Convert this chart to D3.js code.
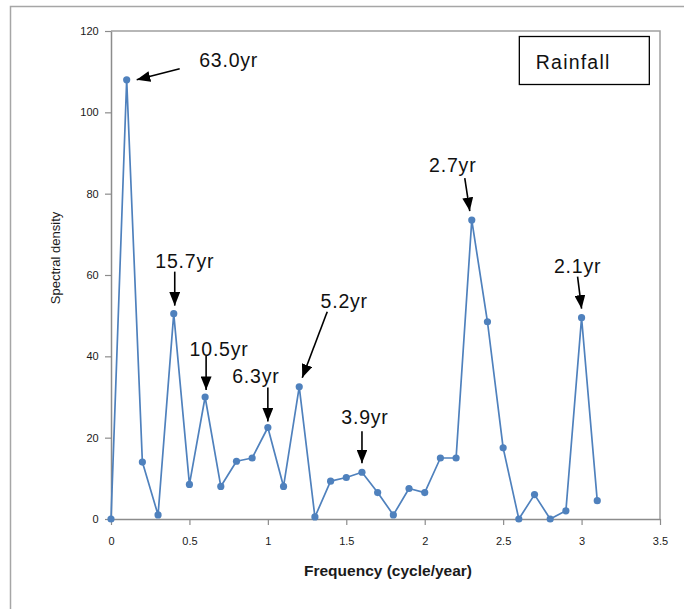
<!DOCTYPE html>
<html>
<head>
<meta charset="utf-8">
<title>Rainfall spectral density</title>
<script src="https://cdn.jsdelivr.net/npm/d3@7/dist/d3.min.js"></script>
<style>
  body { margin: 0; background: #fff; }
  svg text { font-family: "Liberation Sans", Arial, sans-serif; }
</style>
</head>
<body>
<svg id="chart" width="684" height="609"></svg>
<script>
// frequency (cycle/year) and spectral density
const frequency = [0, 0.1, 0.2, 0.3, 0.4, 0.5, 0.6, 0.7, 0.8, 0.9, 1.0, 1.1, 1.2, 1.3, 1.4, 1.5,
                   1.6, 1.7, 1.8, 1.9, 2.0, 2.1, 2.2, 2.3, 2.4, 2.5, 2.6, 2.7, 2.8, 2.9, 3.0, 3.1];
const density = [0, 108, 14, 1, 50.5, 8.5, 30, 8, 14.2, 15, 22.5, 8, 32.5, 0.5, 9.3, 10.2,
                 11.5, 6.5, 1, 7.5, 6.5, 15, 15, 73.5, 48.5, 17.5, 0, 6, 0, 2, 49.5, 4.5];
const xTicks = [0, 0.5, 1, 1.5, 2, 2.5, 3, 3.5];
const yTicks = [0, 20, 40, 60, 80, 100, 120];

// annotated peaks: label and the frequency it points at
const peakLabels = ["63.0yr", "15.7yr", "10.5yr", "6.3yr", "5.2yr", "3.9yr", "2.7yr", "2.1yr"];
const peakFreqs  = [0.1, 0.4, 0.6, 1.0, 1.2, 1.6, 2.3, 3.0];

// arrow / label placement relative to the marked point (pixels)
const peakLayout = [
  { sx: 53, sy: -11, tx: 10, ty: 0,   lx: 102, ly: -13 },
  { sx: 1,  sy: -42, tx: 1,  ty: -8,  lx: 11,  ly: -46 },
  { sx: 1,  sy: -41, tx: 1,  ty: -7,  lx: 14,  ly: -41 },
  { sx: 0,  sy: -40, tx: 0,  ty: -6,  lx: -12, ly: -45 },
  { sx: 28, sy: -75, tx: 3,  ty: -9,  lx: 45,  ly: -79 },
  { sx: 0,  sy: -41, tx: 0,  ty: -9,  lx: 3,   ly: -48 },
  { sx: -7, sy: -42, tx: -2, ty: -9,  lx: -19, ly: -48 },
  { sx: -4, sy: -41, tx: 0,  ty: -9,  lx: -4,  ly: -45 }
];

const svg = d3.select("#chart");
const margin = { left: 111, right: 24, top: 31, bottom: 90 };
const W = 684, H = 609;

const x = d3.scaleLinear().domain([0, 3.5]).range([margin.left, W - margin.right]);
const y = d3.scaleLinear().domain([0, 120]).range([H - margin.bottom, margin.top]);

// outer chart border
svg.append("rect")
  .attr("x", 10.5).attr("y", 6.5).attr("width", 720).attr("height", 700)
  .attr("fill", "none").attr("stroke", "#a6a6a6").attr("stroke-width", 1.5);

// plot area border (top / right)
svg.append("path")
  .attr("d", `M${x(0)},${y(120)}H${x(3.5)}V${y(0)}`)
  .attr("fill", "none").attr("stroke", "#a0a0a0").attr("stroke-width", 1.5);

// axes
const xAxis = svg.append("g")
  .attr("transform", `translate(0,${y(0)})`)
  .call(d3.axisBottom(x).tickValues(xTicks).tickSize(6).tickSizeOuter(0).tickFormat(d3.format("")));
const yAxis = svg.append("g")
  .attr("transform", `translate(${x(0)},0)`)
  .call(d3.axisLeft(y).tickValues(yTicks).tickSize(6).tickSizeOuter(0));

[xAxis, yAxis].forEach(a => {
  a.select(".domain").attr("stroke", "#8c8c8c").attr("stroke-width", 1.5);
  a.selectAll(".tick line").attr("stroke", "#8c8c8c").attr("stroke-width", 1.2);
  a.selectAll(".tick text").attr("fill", "#1a1a1a").attr("font-size", 11);
});
xAxis.selectAll(".tick text").attr("dy", "1.5em");
yAxis.selectAll(".tick text").attr("dx", "-0.3em");

// axis titles
svg.append("text")
  .attr("x", 388).attr("y", 576)
  .attr("text-anchor", "middle").attr("font-size", 15.5).attr("font-weight", "bold")
  .attr("fill", "#1a1a1a")
  .text("Frequency (cycle/year)");

svg.append("text")
  .attr("transform", "translate(60,258) rotate(-90)")
  .attr("text-anchor", "middle").attr("font-size", 13)
  .attr("fill", "#1a1a1a")
  .text("Spectral density");

// series
const pts = frequency.map((f, i) => ({ f, v: density[i] }));
const line = d3.line().x(d => x(d.f)).y(d => y(d.v));

svg.append("path")
  .datum(pts)
  .attr("d", line)
  .attr("fill", "none").attr("stroke", "#4f81bd").attr("stroke-width", 1.7)
  .attr("stroke-linejoin", "round");

svg.selectAll("circle.pt")
  .data(pts)
  .enter()
  .append("circle")
  .attr("class", "pt")
  .attr("cx", d => x(d.f)).attr("cy", d => y(d.v))
  .attr("r", 3.6)
  .attr("fill", "#4f81bd");

// arrow head
svg.append("defs").append("marker")
  .attr("id", "head")
  .attr("viewBox", "0 0 10 8")
  .attr("refX", 10).attr("refY", 4)
  .attr("markerWidth", 8.5).attr("markerHeight", 6.8)
  .attr("markerUnits", "strokeWidth")
  .attr("orient", "auto")
  .append("path").attr("d", "M0,0L10,4L0,8Z").attr("fill", "#000");

// peak annotations
peakLabels.forEach((lab, i) => {
  const idx = frequency.indexOf(peakFreqs[i]);
  const px = x(frequency[idx]), py = y(density[idx]);
  const L = peakLayout[i];
  svg.append("line")
    .attr("x1", px + L.sx).attr("y1", py + L.sy)
    .attr("x2", px + L.tx).attr("y2", py + L.ty)
    .attr("stroke", "#000").attr("stroke-width", 1.6)
    .attr("marker-end", "url(#head)");
  svg.append("text")
    .attr("x", px + L.lx).attr("y", py + L.ly)
    .attr("text-anchor", "middle")
    .attr("font-size", 19.5).attr("letter-spacing", 0.8).attr("fill", "#111")
    .text(lab);
});

// legend-like label box
svg.append("rect")
  .attr("x", x(2.6) + 0.5).attr("y", 36.5).attr("width", 130).attr("height", 48)
  .attr("fill", "#fff").attr("stroke", "#000").attr("stroke-width", 1.3);
svg.append("text")
  .attr("x", x(2.6) + 17).attr("y", 69)
  .attr("font-size", 19.5).attr("letter-spacing", 1.2).attr("fill", "#111")
  .text("Rainfall");
</script>
</body>
</html>
